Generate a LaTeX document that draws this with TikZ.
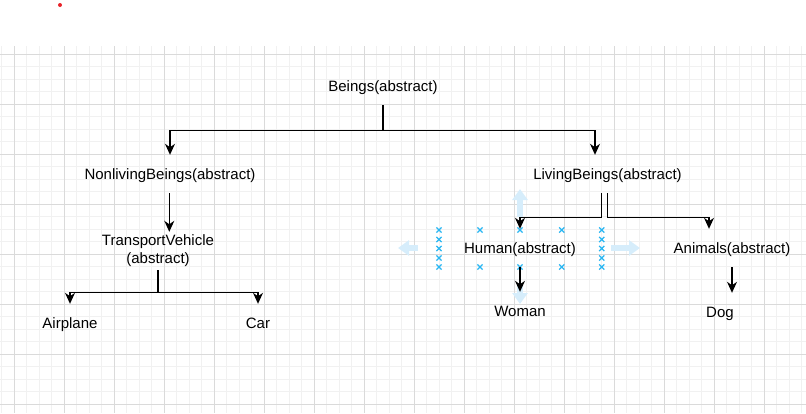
\documentclass[tikz,border=0pt]{standalone}
\usepackage{fontspec}
\setmainfont{Liberation Sans}
\usepackage{xcolor}
\usepackage{tikz}
\usetikzlibrary{arrows.meta,calc,positioning}
\definecolor{gridMajor}{HTML}{DADADA}
\definecolor{gridMinor}{HTML}{F1F1F1}
\definecolor{handleBlue}{HTML}{29B6F2}
\definecolor{hintBlue}{HTML}{D6EDFB}
\definecolor{dotRed}{HTML}{E8232A}

\begin{document}
\begin{tikzpicture}[x=1pt,y=-1pt,>={Stealth[length=11pt,width=10pt,inset=3.5pt]},
    lbl/.style={inner sep=0pt,minimum height=38pt,text height=14pt,text depth=2.6pt,font=\fontsize{15}{18}\selectfont,align=center},
    edge/.style={->,line width=1.3pt},
    handle/.style={handleBlue,line width=1.3pt},
    hint/.style={hintBlue,line width=6pt,-{Triangle[length=11pt,width=15pt]}}]
    \useasboundingbox (0,0) rectangle (806,413);
    % grid
    \foreach \i in {0,...,64} \draw[gridMinor,line width=1pt] ({1.8+12.5*\i},46)--({1.8+12.5*\i},413);
    \foreach \i in {0,...,29} \draw[gridMinor,line width=1pt] (0,{54.3+12.5*\i})--(806,{54.3+12.5*\i});
    \foreach \i in {0,...,15} \draw[gridMajor,line width=1pt] ({14.3+50*\i},46)--({14.3+50*\i},413);
    \foreach \i in {0,...,7} \draw[gridMajor,line width=1pt] (0,{54.3+50*\i})--(806,{54.3+50*\i});
    \fill[dotRed] (60,5) circle (2pt);
    % nodes
    \node[lbl] (beings) at (383,86) {Beings(abstract)};
    \node[lbl] (nonliving) at (170,174) {NonlivingBeings(abstract)};
    \node[lbl] (living) at (607.5,174) {LivingBeings(abstract)};
    \node[lbl,text height=,text depth=] (transport) at (158,251) {TransportVehicle\\(abstract)};
    \node[lbl] (airplane) at (70,323) {Airplane};
    \node[lbl] (car) at (258,323) {Car};
    \node[lbl] (human) at (520,248) {Human(abstract)};
    \node[lbl] (animals) at (732,248) {Animals(abstract)};
    \node[lbl] (woman) at (520,311) {Woman};
    \node[lbl] (dog) at (720,312) {Dog};
    % selection hints round human
    \draw[hint] (418,248)--(398,248);
    \draw[hint] (611,248)--(640,248);
    \draw[hint] (520,217)--(520,189);
    \draw[hint] (520,285)--(520,304);
    \foreach \x/\y in {439/230,439/239.5,439/248.5,439/258,439/267,601.7/230,601.7/239.5,601.7/248.5,601.7/258,601.7/267,480/230,480/267,520/230,520/267,561.7/230,561.7/267}
        \draw[handle,shift={(\x,\y)}] (-2.6,-2.6)--(2.6,2.6) (-2.6,2.6)--(2.6,-2.6);
    % connectors
    \draw[edge] (beings.south) -- ++(0,25) -| ([xshift=-12.5pt]living.north);
    \draw[edge] (beings.south) -- ++(0,25) -| (nonliving.north);
    \draw[edge] ([xshift=-0.7pt]nonliving.south) -- ([xshift=-0.7pt]nonliving.south |- transport.north);
    \draw[edge] (transport.south) -- ++(0,22) -| (airplane.north);
    \draw[edge] (transport.south) -- ++(0,22) -| (car.north);
    \draw[edge] ([xshift=-6pt]living.south) -- ++(0,24) -| (human.north);
    \draw[edge] (living.south) -- ++(0,24) -| ([xshift=-23pt]animals.north);
    \draw[edge] (human.south) -- (woman.north);
    \draw[edge] (animals.south) -- (animals.south |- dog.north);
\end{tikzpicture}
\end{document}
